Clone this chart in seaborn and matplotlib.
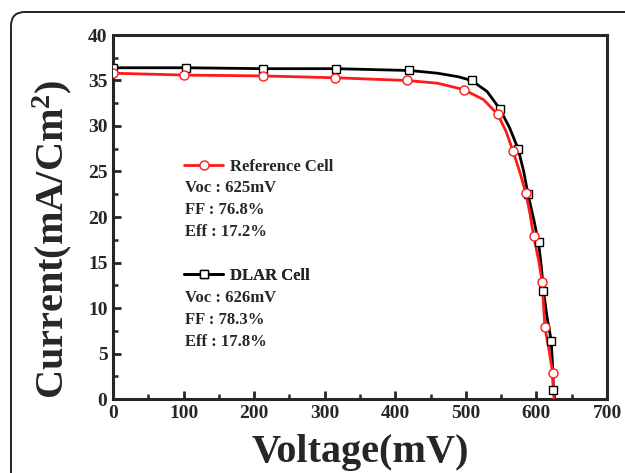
import matplotlib
matplotlib.use("Agg")
import matplotlib.pyplot as plt
import seaborn as sns
import pandas as pd
from matplotlib.lines import Line2D
from matplotlib.patches import FancyBboxPatch
from matplotlib.transforms import IdentityTransform
from matplotlib.ticker import MultipleLocator

# ---- data ----
ref_voltage = [0, 100, 213, 315, 417, 460, 497, 525, 545, 557, 567, 577, 585, 591,
               596, 603, 608, 610, 612, 618, 623, 625]
ref_current = [35.8, 35.6, 35.5, 35.3, 35.0, 34.7, 34.0, 32.9, 31.3, 29.4, 27.2, 24.8,
               22.6, 20.3, 17.9, 15.3, 12.9, 10.4, 7.9, 5.3, 2.9, 0.0]
ref_marker_idx = [0, 1, 2, 3, 4, 6, 8, 10, 12, 14, 16, 18, 20]

dlar_voltage = [0, 103, 212, 316, 420, 460, 490, 508, 530, 548, 562, 574, 582, 588,
                596, 603, 607, 610, 615, 621, 623, 624, 626]
dlar_current = [36.4, 36.4, 36.3, 36.3, 36.1, 35.8, 35.4, 35.0, 33.8, 31.9, 29.8, 27.5,
                25.0, 22.5, 19.8, 17.2, 14.5, 11.9, 9.0, 6.4, 3.5, 0.95, 0.0]
dlar_marker_idx = [0, 1, 2, 3, 4, 7, 9, 11, 13, 15, 17, 19, 21]

series_names = ["Reference Cell", "DLAR Cell"]
ref_stats = ["Voc : 625mV", "FF : 76.8%", "Eff : 17.2%"]
dlar_stats = ["Voc : 626mV", "FF : 78.3%", "Eff : 17.8%"]
x_label = "Voltage(mV)"
y_label = r"Current(mA/Cm$^{\mathbf{2}}$)"

# ---- style ----
sns.set_style("ticks")
plt.rcParams["font.family"] = ["Liberation Serif", "DejaVu Serif"]
plt.rcParams["font.weight"] = "bold"
plt.rcParams["mathtext.fontset"] = "custom"
plt.rcParams["mathtext.rm"] = "Liberation Serif:bold"
plt.rcParams["mathtext.bf"] = "Liberation Serif:bold"
plt.rcParams["mathtext.it"] = "Liberation Serif:bold"

fig = plt.figure(figsize=(6.25, 4.73), dpi=100)
ax = fig.add_axes([113 / 625, 1 - 399 / 473, 494 / 625, 364 / 473])

ref_df = pd.DataFrame({"V": ref_voltage, "J": ref_current})
dlar_df = pd.DataFrame({"V": dlar_voltage, "J": dlar_current})

red = "#ff1a1a"
sns.lineplot(data=dlar_df, x="V", y="J", sort=False, color="black", lw=2.0, ax=ax, zorder=3)
sns.lineplot(data=ref_df, x="V", y="J", sort=False, color=red, lw=2.0, ax=ax, zorder=4)
ax.plot(dlar_df["V"].iloc[dlar_marker_idx], dlar_df["J"].iloc[dlar_marker_idx], ls="none",
        marker="s", ms=6, mfc="white", mec="black", mew=1.0, zorder=5)
ax.plot(ref_df["V"].iloc[ref_marker_idx], ref_df["J"].iloc[ref_marker_idx], ls="none",
        marker="o", ms=6.5, mfc="white", mec=red, mew=1.0, zorder=6)

ax.set_xlim(0, 700)
ax.set_ylim(0, 40)
ax.xaxis.set_major_locator(MultipleLocator(100))
ax.xaxis.set_minor_locator(MultipleLocator(50))
ax.yaxis.set_major_locator(MultipleLocator(5))
ax.yaxis.set_minor_locator(MultipleLocator(2.5))
ax.tick_params(axis="both", which="major", direction="in", length=6, width=2,
               labelsize=14, pad=4, top=False, right=False)
ax.tick_params(axis="both", which="minor", direction="in", length=3.5, width=1.8,
               top=False, right=False)
for lab in ax.get_xticklabels() + ax.get_yticklabels():
    lab.set_fontweight("bold")
for sp in ax.spines.values():
    sp.set_linewidth(2.2)
    sp.set_visible(True)

ax.set_xlabel(x_label, fontsize=29, fontweight="bold", labelpad=9)
ax.set_ylabel(y_label, fontsize=29, fontweight="bold")
ax.yaxis.set_label_coords(-0.078, 0.44)

# ---- legend blocks ----
def axy(py):
    return (399 - py) / 364

h_ref = Line2D([], [], color=red, lw=2.0, marker="o", ms=6.5, mfc="white", mec=red, mew=1.0)
h_dlar = Line2D([], [], color="black", lw=2.0, marker="s", ms=6, mfc="white", mec="black", mew=1.0)
x0 = (184 - 113) / 494
for handle, name, py in [(h_ref, series_names[0], 167), (h_dlar, series_names[1], 276)]:
    leg = ax.legend([handle], [name], loc="center left", bbox_to_anchor=(x0, axy(py)),
                    frameon=False, borderpad=0, borderaxespad=0, handlelength=2.35,
                    handletextpad=0.4, prop={"family": "Liberation Serif", "weight": "bold", "size": 12})
    ax.add_artist(leg)

tx = (185 - 113) / 494
for stats, ys in [(ref_stats, [188, 210, 232]), (dlar_stats, [298, 320, 342])]:
    for s, py in zip(stats, ys):
        ax.text(tx, axy(py), s, transform=ax.transAxes, fontsize=12, fontweight="bold",
                va="center", ha="left")

# ---- rounded frame around figure ----
frame = FancyBboxPatch((11, -40), 680, 473 - 12 + 40, boxstyle="round,pad=0,rounding_size=14",
                       transform=IdentityTransform(), fill=False, ec="#222222", lw=1.4)
fig.patches.append(frame)

fig.savefig("out.png", dpi=100)
